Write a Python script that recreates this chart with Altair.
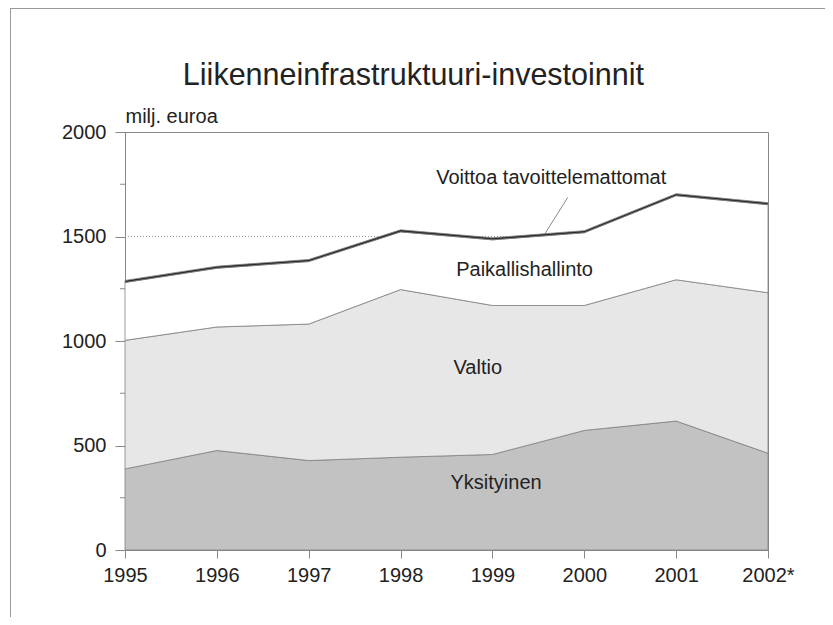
import altair as alt
import pandas as pd

FONT = "Liberation Sans, Arial, sans-serif"
TXT = "#222222"
FS = 20

# ---- data (milj. euroa) ----
years = [1995, 1996, 1997, 1998, 1999, 2000, 2001, 2002]
series = ["Yksityinen", "Valtio", "Paikallishallinto", "Voittoa tavoittelemattomat"]
yksityinen = [388, 476, 428, 444, 457, 572, 617, 463]
valtio = [615, 591, 653, 802, 713, 598, 676, 768]
paikallishallinto = [277, 281, 299, 276, 314, 348, 402, 421]
voittoa = [10, 10, 10, 10, 10, 10, 10, 10]
fills = ["#c2c2c2", "#e7e7e7", "#ffffff", "#2a2a2a"]

chart_title = "Liikenneinfrastruktuuri-investoinnit"
title_x = [1998.14]
title_y = [2224]

label_text = ["Voittoa tavoittelemattomat", "Paikallishallinto", "Valtio", "Yksityinen"]
label_x = [1999.64, 1999.35, 1998.84, 1999.04]
label_y = [1750, 1309, 840, 290]

leader_x = [1999.82]
leader_x2 = [1999.57]
leader_y = [1687]
leader_y2 = [1512]

major_ticks = [0, 500, 1000, 1500, 2000]
minor_ticks = [250, 750, 1250, 1750]
grid_values = [1500]

# ---- tables ----
rows = []
for si, (name, vals) in enumerate(zip(series, [yksityinen, valtio, paikallishallinto, voittoa])):
    for yr, v in zip(years, vals):
        rows.append({"year": yr, "value": v, "series": name, "order": si})
df = pd.DataFrame(rows)
labels_df = pd.DataFrame({"text": label_text, "x": label_x, "y": label_y})
title_df = pd.DataFrame({"text": [chart_title], "x": title_x, "y": title_y})
leader_df = pd.DataFrame({"x": leader_x, "x2": leader_x2, "y": leader_y, "y2": leader_y2})
minor_df = pd.DataFrame({"v": minor_ticks})
grid_df = pd.DataFrame({"v": grid_values})

xscale = alt.Scale(domain=[1995, 2002], nice=False, zero=False)
yscale = alt.Scale(domain=[0, 2000], nice=False)

x_axis = alt.Axis(
    values=years, format="d",
    labelExpr="datum.value == 2002 ? '2002*' : datum.value",
    grid=False, tickSize=8, labelPadding=7, labelFontSize=FS, labelFont=FONT,
    labelColor=TXT, labelFlush=False, labelOverlap=False,
    domainColor="#888888", tickColor="#888888", title=None,
)
y_axis = alt.Axis(
    values=major_ticks, format="d",
    grid=False, tickSize=10, labelPadding=9, labelFontSize=FS, labelFont=FONT,
    labelColor=TXT, labelFlush=False, labelOverlap=False,
    domainColor="#888888", tickColor="#888888",
    title="milj. euroa", titleAngle=0, titleAlign="left", titleBaseline="alphabetic",
    titleX=0, titleY=-10, titleFontSize=FS, titleFont=FONT, titleFontWeight="normal",
    titleColor=TXT,
)

grid = alt.Chart(grid_df).mark_rule(color="#999999", strokeDash=[1, 2], strokeWidth=1).encode(
    y=alt.Y("v:Q", scale=yscale, axis=y_axis),
)

areas = alt.Chart(df).mark_area(stroke="#808080", strokeWidth=0.8).encode(
    x=alt.X("year:Q", scale=xscale, axis=x_axis),
    y=alt.Y("value:Q", stack="zero", scale=yscale, axis=y_axis),
    color=alt.Color("series:N", scale=alt.Scale(domain=series, range=fills), legend=None),
    order=alt.Order("order:Q", sort="ascending"),
)

minor = alt.Chart(minor_df).mark_rule(color="#888888", strokeWidth=1).encode(
    y=alt.Y("v:Q", scale=yscale),
    x=alt.value(-5),
    x2=alt.value(0),
)

leader = alt.Chart(leader_df).mark_rule(color="#888888", strokeWidth=1).encode(
    x=alt.X("x:Q", scale=xscale), x2="x2:Q",
    y=alt.Y("y:Q", scale=yscale), y2="y2:Q",
)

texts = alt.Chart(labels_df).mark_text(
    font=FONT, fontSize=FS, color=TXT, align="center", baseline="alphabetic"
).encode(
    x=alt.X("x:Q", scale=xscale),
    y=alt.Y("y:Q", scale=yscale),
    text="text:N",
)

title = alt.Chart(title_df).mark_text(
    font=FONT, fontSize=30.5, color=TXT, align="center", baseline="alphabetic", clip=False
).encode(
    x=alt.X("x:Q", scale=xscale),
    y=alt.Y("y:Q", scale=yscale),
    text="text:N",
)

# outer frame of the figure
frame_top = alt.Chart(grid_df).mark_rule(color="#999999", strokeWidth=1).encode(
    x=alt.value(-115), x2=alt.value(702), y=alt.value(-123.5)
)
frame_left = alt.Chart(grid_df).mark_rule(color="#999999", strokeWidth=1).encode(
    x=alt.value(-114.5), y=alt.value(-124), y2=alt.value(485)
)

chart = alt.layer(grid, areas, minor, leader, texts, title, frame_top, frame_left).properties(
    width=643,
    height=418,
    autosize=alt.AutoSizeParams(type="none"),
    padding={"left": 117, "top": 124, "right": 57, "bottom": 67},
    background="white",
).configure_view(stroke="#888888", strokeWidth=1)

chart.save("out.html", embed_options={"renderer": "svg", "actions": False})
